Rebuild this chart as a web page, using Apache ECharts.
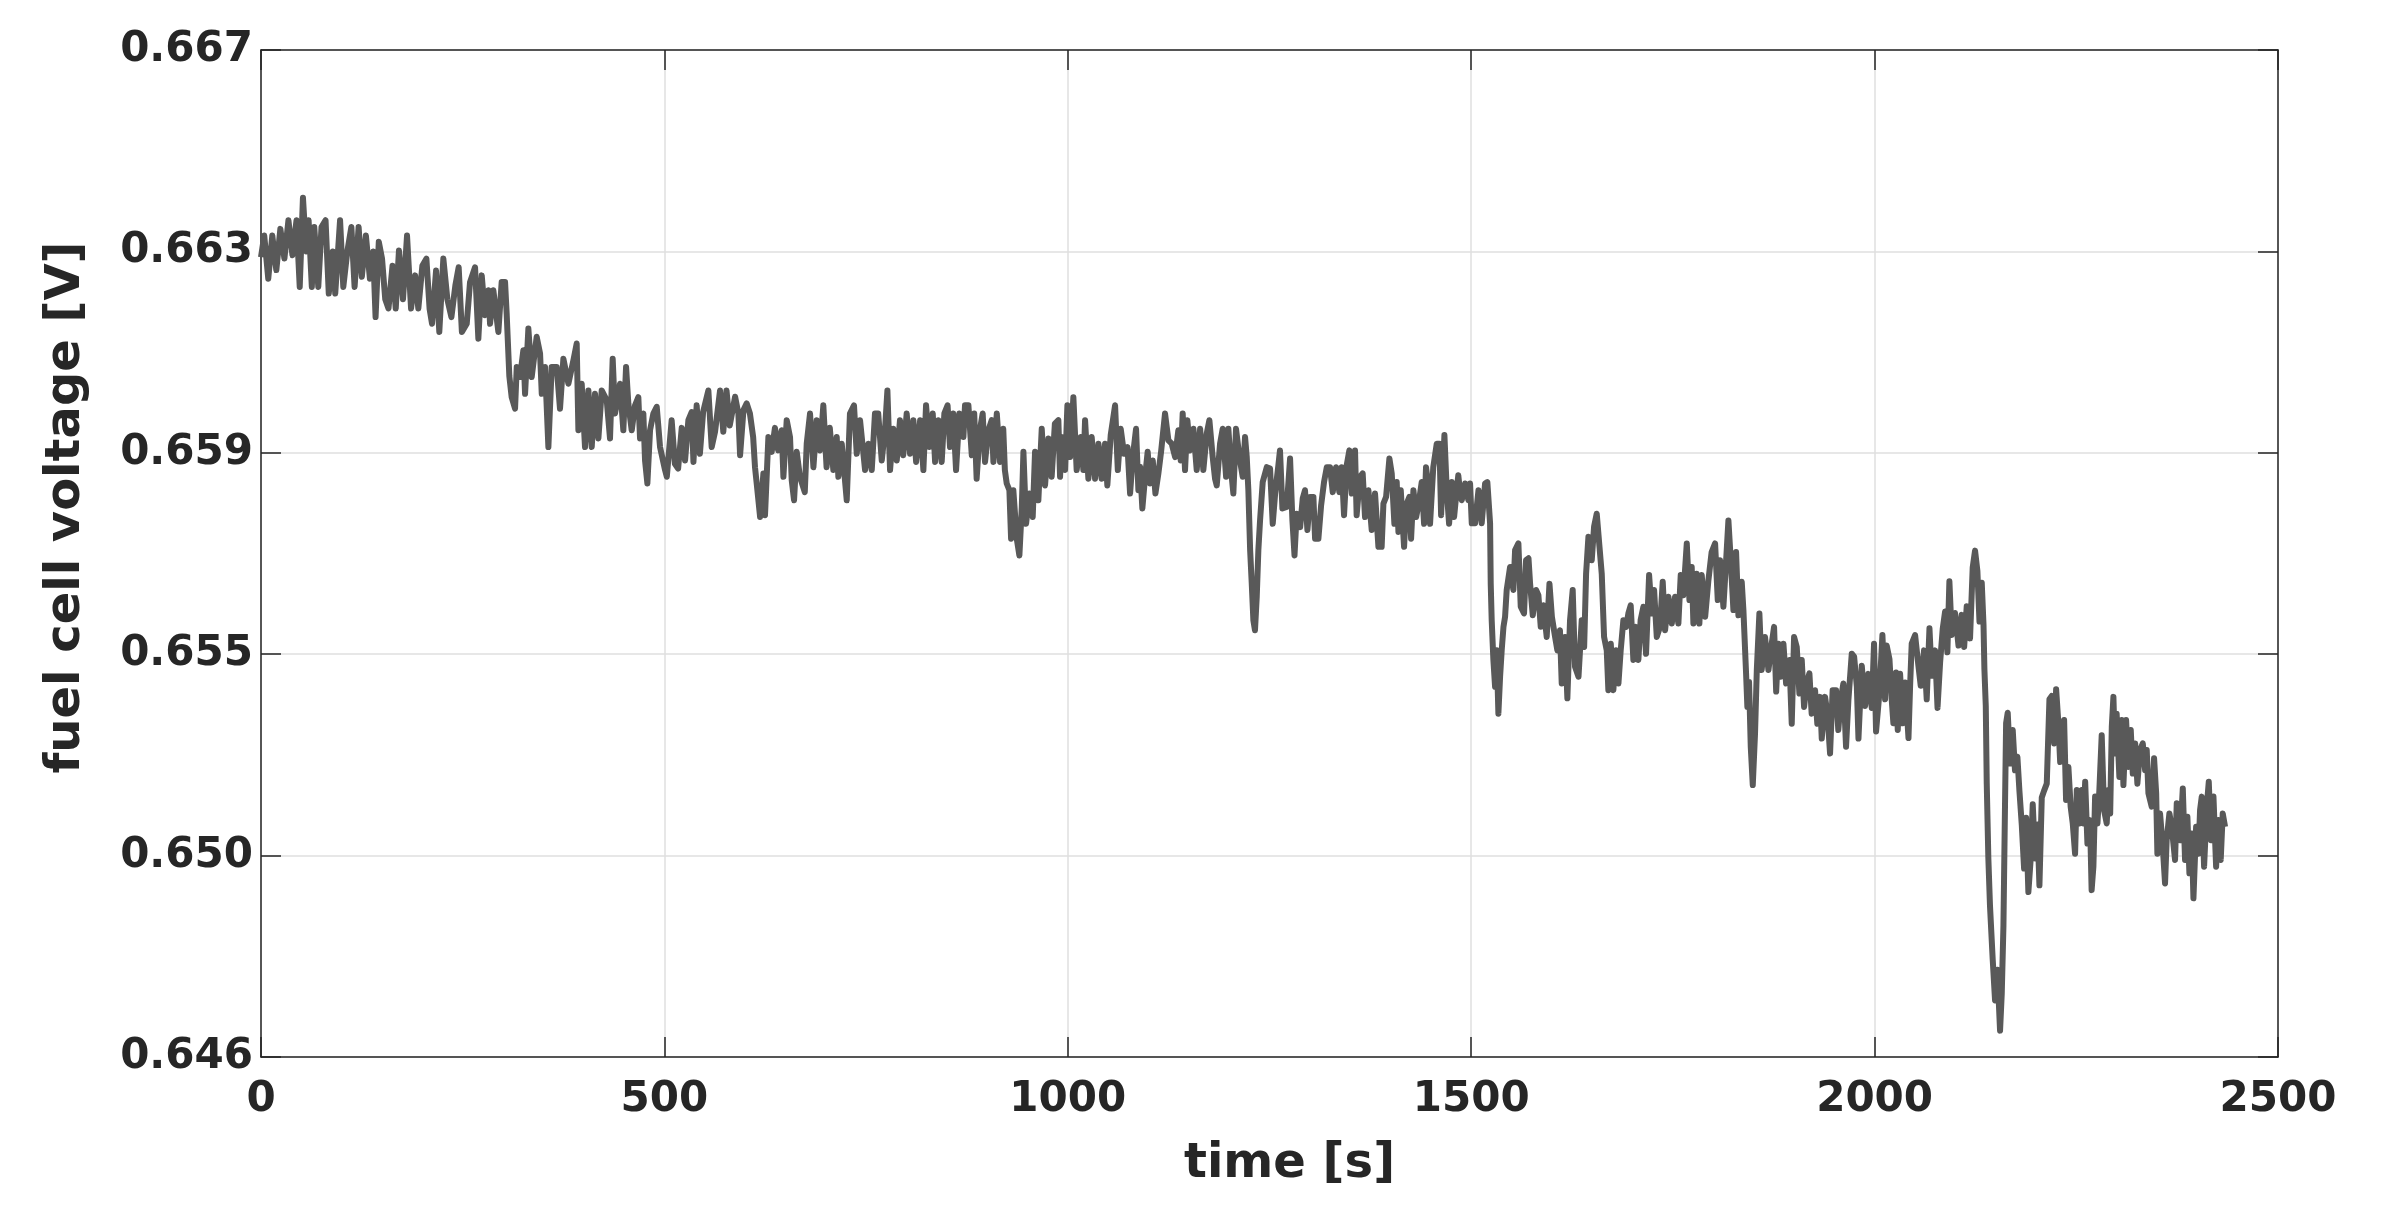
<!DOCTYPE html>
<html>
<head>
<meta charset="utf-8">
<title>fuel cell voltage</title>
<script src="https://cdn.jsdelivr.net/npm/echarts@6/dist/echarts.min.js"></script>
<style>
  html, body { margin: 0; padding: 0; background: #ffffff; }
  #chart { width: 2381px; height: 1219px; }
</style>
</head>
<body>
<div id="chart"></div>
<script>
const timeSec = [
  // 0 - 250 s
  0, 4, 9, 14, 19, 24, 29, 34, 39, 44, 48, 52, 56, 59, 63, 66, 71, 75, 80, 84,
  89, 92, 98, 102, 107, 112, 116, 121, 125, 130, 135, 139, 142, 146, 150, 154, 158, 163, 167, 171,
  176, 181, 186, 191, 195, 200, 205, 209, 212, 217, 221, 226, 231, 236, 241, 245, 249,
  // 250 - 495 s
  255, 259.1, 265.3, 269.4, 273.6, 277.7, 281.8, 283.9, 288, 294.2, 298.3, 302.5, 304.5, 307.8, 310.7, 314.9, 317, 321.1, 325.2, 327.3,
  331.4, 335.5, 341.7, 345.9, 348, 352.1, 356.2, 360.3, 366.5, 370.6, 374.8, 381, 387.2, 391.3, 393.4, 397.5, 401.6, 405.8, 409.9, 414,
  418.2, 422.3, 428.5, 432.6, 435.9, 438.8, 445, 449.1, 452.5, 455.3, 459.5, 463.6, 467.7, 469.8, 473.9, 476, 478.9, 482.2, 486.3, 490.5, 494.6,
  // 500 - 745 s
  500.8, 503, 509, 513, 517, 521.5, 525.6, 529.7, 533.8, 536, 540, 544, 548, 554.5, 558.6, 562.8, 569, 573, 577, 581,
  587.6, 591.7, 593.8, 598, 602, 606, 610, 612.3, 614.4, 618.6, 622.7, 624.7, 628.9, 633, 637, 641, 645.4, 647.5, 651.6, 655.7,
  657.8, 660.7, 664, 668, 674, 676.4, 680.5, 684.7, 688.8, 692.9, 697, 701, 705, 709.4, 713.6, 715.6, 719.8, 726, 730, 735, 738.4, 742.5,
  // 745 - 990 s
  748.7, 752.8, 757, 761, 765, 769.4, 773.5, 776.4, 779.7, 783.8, 788, 792, 796, 800.3, 804.5, 808.6, 812, 817, 821, 824.3,
  828.4, 832.6, 835.5, 839.6, 843.7, 847, 851, 854, 858, 861.5, 865.6, 870.6, 872.6, 876.8, 881, 884, 887, 891, 894.5, 897.4,
  901.6, 905.7, 907.8, 912, 916, 920, 922, 924.3, 927.6, 929.7, 932.5, 936.7, 940, 943, 945, 948.3, 952.4, 956.5, 959.4, 963.5,
  967.7, 971.8, 976, 980, 984, 988.3, 990.4,
  // 990 - 1240 s
  992.5, 996.6, 999.5, 1002.8, 1006.9, 1011, 1016, 1019.3, 1021.4, 1025.5, 1029.6, 1033.8, 1038, 1042, 1046.2, 1049, 1053.2, 1058.6, 1062, 1065.6,
  1069.7, 1074, 1077.2, 1080.5, 1084.6, 1087.5, 1089.6, 1092.4, 1095.8, 1099, 1102, 1105.3, 1108.6, 1112.3, 1115.6, 1120.5, 1124.7, 1128.8, 1133, 1137,
  1140, 1142.4, 1145.3, 1148.2, 1151.5, 1155.7, 1159.8, 1164, 1168, 1172.2, 1175.5, 1179.6, 1182.5, 1184.6, 1188.7, 1192, 1196.2, 1199, 1202.4, 1205.2,
  1208.5, 1212.7, 1216.8, 1219.7, 1221.8, 1223.8, 1226, 1228, 1230, 1232, 1234.2, 1236.2, 1238.3,
  // 1240 - 1487 s
  1241.6, 1246.6, 1250.7, 1254, 1257, 1261, 1263, 1266, 1271.4, 1275.5, 1278.4, 1281, 1283.7, 1288, 1291.2, 1294, 1297, 1300.3, 1304.4, 1306.5,
  1310.6, 1314, 1317.6, 1321, 1325, 1328.4, 1332.5, 1336.6, 1339.5, 1342.4, 1345.7, 1349, 1352, 1356, 1358, 1362.2, 1365.5, 1368.4, 1372.6, 1376.7,
  1380.8, 1385, 1389, 1391.2, 1394.5, 1398.6, 1401.5, 1404.8, 1407.7, 1409.8, 1412.7, 1416.8, 1419.3, 1423.4, 1425.5, 1428.4, 1431.7, 1434.6, 1438.7, 1441.6,
  1444, 1447, 1449, 1453, 1457.3, 1460.6, 1462.7, 1466.8, 1469.7, 1472.6, 1476, 1478.8, 1482, 1484, 1486,
  // 1487 - 1735 s
  1488.3, 1492.4, 1496.5, 1498.6, 1500.7, 1504.8, 1509, 1513, 1517.2, 1520, 1523.4, 1524.2, 1525.4, 1527.5, 1529.6, 1531.6, 1533.7, 1535.8, 1537.8, 1540,
  1542, 1544, 1548.2, 1552.3, 1554.4, 1558.5, 1561.4, 1565.5, 1568, 1571, 1573, 1576.3, 1580.4, 1583.3, 1586.2, 1589.5, 1593.6, 1597, 1600, 1604,
  1606.8, 1610, 1612.2, 1616.3, 1619.2, 1622.5, 1625.8, 1628.7, 1633, 1637, 1640, 1642.4, 1645.3, 1649.4, 1652.3, 1655.6, 1659, 1661.8, 1664.7, 1668,
  1670, 1673, 1676.2, 1679.6, 1682.5, 1685.3, 1688.6, 1692, 1694.8, 1697.7, 1701, 1704.3, 1707.2, 1710, 1713.4, 1716.7, 1720.5, 1723.8, 1726.7, 1730, 1734,
  // 1735 - 1980 s
  1737.4, 1740.3, 1744.4, 1748.6, 1752.7, 1756.8, 1759.7, 1763, 1767.2, 1770.5, 1773.3, 1775.4, 1779.5, 1782.8, 1785.7, 1790, 1794, 1798, 1802.3, 1805.6,
  1808.5, 1812.6, 1816, 1818.8, 1821.7, 1825, 1828.3, 1831.2, 1835.3, 1837.4, 1839.5, 1840.7, 1842.3, 1844.4, 1846.5, 1849, 1851.8, 1854, 1857.2, 1860,
  1864.2, 1868.4, 1872.5, 1875.4, 1878, 1880.8, 1883.7, 1887, 1890.3, 1894.4, 1897.3, 1900.2, 1903.5, 1906.8, 1909.7, 1912.6, 1916, 1919.2, 1922, 1926.2,
  1929, 1932.4, 1934.5, 1938.6, 1941.5, 1944.8, 1948, 1952.2, 1955, 1958, 1961.3, 1964.6, 1967.5, 1971.7, 1974.6, 1978, 1980,
  // 1980 - 2230 s
  1984.1, 1988.2, 1992.3, 1996.5, 1999.3, 2001.8, 2006, 2009.7, 2013, 2015, 2018.4, 2021.2, 2023.3, 2026.6, 2028.7, 2031.6, 2034.9, 2037.8, 2042, 2044,
  2046, 2050.2, 2054.3, 2057.2, 2061.3, 2064.6, 2068, 2070.8, 2075, 2078, 2081.2, 2084.5, 2087.4, 2090.2, 2092.7, 2095.6, 2099.7, 2104, 2108, 2111,
  2114.2, 2118.3, 2121.6, 2124.5, 2127.4, 2130, 2132.8, 2135, 2136.1, 2137.8, 2139, 2141, 2143, 2146.4, 2149.3, 2152.2, 2155.5, 2157.6, 2159.7, 2161.7,
  2163, 2165, 2168, 2171.2, 2174, 2177, 2179.5, 2182.4, 2185.3, 2187.8, 2190.6, 2193.5, 2196, 2199, 2201.8, 2204.3, 2207.2, 2210, 2213.4, 2216.7,
  2219.6, 2222.5, 2225, 2227.8, 2230,
  // 2230 - 2435 s
  2232, 2234.9, 2237.3, 2240.2, 2243, 2245.6, 2248.5, 2250.6, 2254, 2256.8, 2258.8, 2261, 2263.8, 2267, 2269, 2271.2, 2273.3, 2276.2, 2278.6, 2281.5,
  2284.4, 2287.7, 2289.8, 2292, 2294, 2296, 2298, 2300, 2303.4, 2306.3, 2308.4, 2311.7, 2314.6, 2317.5, 2320, 2323, 2325.7, 2329, 2332.4, 2335.3,
  2337.3, 2339.4, 2343.5, 2346.4, 2349, 2350.5, 2353.8, 2357.2, 2360, 2362, 2365.4, 2368.3, 2372.4, 2374.5, 2378.6, 2382, 2384.8, 2387.7, 2390.2, 2393,
  2395.2, 2398.5, 2401.4, 2403.4, 2405.5, 2408.4, 2411.7, 2414.2, 2417, 2420, 2423.3, 2426, 2429, 2431.5, 2434.4
];

const cellVoltage = [
  // 0 - 250 s
  0.66288, 0.66333, 0.66243, 0.66333, 0.66261, 0.66347, 0.66285, 0.66365, 0.66292, 0.66365, 0.66226, 0.66412, 0.66300, 0.66365, 0.66226, 0.66351, 0.66226, 0.66351, 0.66365, 0.66212,
  0.66300, 0.66212, 0.66365, 0.66226, 0.66300, 0.66351, 0.66226, 0.66351, 0.66247, 0.66333, 0.66243, 0.66300, 0.66163, 0.66320, 0.66285, 0.66200, 0.66181, 0.66270, 0.66181, 0.66302,
  0.66200, 0.66333, 0.66181, 0.66250, 0.66181, 0.66270, 0.66285, 0.66180, 0.66149, 0.66260, 0.66132, 0.66285, 0.66200, 0.66163, 0.66230, 0.66267, 0.66132,
  // 250 - 495 s
  0.66149, 0.66236, 0.66267, 0.66118, 0.66250, 0.66167, 0.66219, 0.66149, 0.66219, 0.66132, 0.66236, 0.66236, 0.66170, 0.66040, 0.65996, 0.65972, 0.66059, 0.66038, 0.66094, 0.66003,
  0.66139, 0.66038, 0.66122, 0.66087, 0.66003, 0.66059, 0.65892, 0.66059, 0.66059, 0.65972, 0.66076, 0.66024, 0.66073, 0.66108, 0.65927, 0.66024, 0.65892, 0.66010, 0.65892, 0.66003,
  0.65910, 0.66010, 0.65990, 0.65910, 0.66076, 0.65962, 0.66024, 0.65927, 0.66059, 0.65983, 0.65927, 0.65979, 0.65996, 0.65910, 0.65962, 0.65864, 0.65816, 0.65927, 0.65962, 0.65976, 0.65892,
  // 500 - 745 s
  0.65844, 0.65830, 0.65948, 0.65857, 0.65847, 0.65932, 0.65864, 0.65948, 0.65965, 0.65861, 0.65979, 0.65878, 0.65965, 0.66010, 0.65892, 0.65924, 0.66010, 0.65924, 0.66010, 0.65937,
  0.65997, 0.65962, 0.65875, 0.65969, 0.65983, 0.65962, 0.65913, 0.65850, 0.65816, 0.65746, 0.65837, 0.65750, 0.65913, 0.65882, 0.65932, 0.65885, 0.65927, 0.65830, 0.65948, 0.65913,
  0.65823, 0.65781, 0.65882, 0.65830, 0.65798, 0.65899, 0.65962, 0.65850, 0.65948, 0.65885, 0.65979, 0.65850, 0.65932, 0.65844, 0.65913, 0.65830, 0.65899, 0.65781, 0.65962, 0.65979, 0.65878, 0.65948,
  // 745 - 990 s
  0.65844, 0.65899, 0.65844, 0.65962, 0.65962, 0.65864, 0.65930, 0.66010, 0.65844, 0.65930, 0.65864, 0.65948, 0.65875, 0.65962, 0.65878, 0.65948, 0.65861, 0.65948, 0.65844, 0.65979,
  0.65892, 0.65962, 0.65861, 0.65948, 0.65861, 0.65962, 0.65979, 0.65892, 0.65962, 0.65844, 0.65962, 0.65913, 0.65979, 0.65979, 0.65875, 0.65962, 0.65826, 0.65927, 0.65962, 0.65861,
  0.65927, 0.65948, 0.65861, 0.65962, 0.65861, 0.65930, 0.65844, 0.65816, 0.65802, 0.65701, 0.65802, 0.65701, 0.65666, 0.65767, 0.65882, 0.65732, 0.65795, 0.65746, 0.65882, 0.65781,
  0.65930, 0.65812, 0.65910, 0.65830, 0.65941, 0.65948, 0.65830,
  // 990 - 1240 s
  0.65913, 0.65844, 0.65979, 0.65871, 0.65996, 0.65844, 0.65913, 0.65844, 0.65948, 0.65826, 0.65913, 0.65826, 0.65899, 0.65826, 0.65899, 0.65812, 0.65917, 0.65979, 0.65844, 0.65930,
  0.65878, 0.65892, 0.65795, 0.65871, 0.65930, 0.65802, 0.65851, 0.65764, 0.65830, 0.65882, 0.65816, 0.65864, 0.65795, 0.65837, 0.65882, 0.65962, 0.65906, 0.65899, 0.65871, 0.65927,
  0.65864, 0.65962, 0.65844, 0.65948, 0.65885, 0.65930, 0.65844, 0.65930, 0.65844, 0.65920, 0.65948, 0.65871, 0.65826, 0.65812, 0.65899, 0.65930, 0.65830, 0.65930, 0.65844, 0.65795,
  0.65930, 0.65871, 0.65830, 0.65913, 0.65871, 0.65802, 0.65677, 0.65607, 0.65531, 0.65510, 0.65580, 0.65677, 0.65739,
  // 1240 - 1487 s
  0.65819, 0.65850, 0.65847, 0.65732, 0.65795, 0.65854, 0.65885, 0.65764, 0.65767, 0.65868, 0.65739, 0.65666, 0.65753, 0.65725, 0.65785, 0.65802, 0.65719, 0.65788, 0.65788, 0.65701,
  0.65701, 0.65771, 0.65819, 0.65850, 0.65850, 0.65798, 0.65850, 0.65798, 0.65850, 0.65750, 0.65854, 0.65885, 0.65795, 0.65885, 0.65750, 0.65830, 0.65837, 0.65746, 0.65802, 0.65719,
  0.65795, 0.65684, 0.65684, 0.65774, 0.65788, 0.65868, 0.65837, 0.65732, 0.65819, 0.65715, 0.65802, 0.65684, 0.65771, 0.65788, 0.65701, 0.65802, 0.65746, 0.65771, 0.65819, 0.65732,
  0.65850, 0.65809, 0.65732, 0.65850, 0.65899, 0.65899, 0.65750, 0.65917, 0.65802, 0.65732, 0.65819, 0.65746, 0.65802, 0.65833, 0.65802,
  // 1487 - 1735 s
  0.65781, 0.65816, 0.65781, 0.65816, 0.65733, 0.65733, 0.65802, 0.65733, 0.65816, 0.65819, 0.65733, 0.65607, 0.65531, 0.65448, 0.65392, 0.65468, 0.65336, 0.65413, 0.65468, 0.65517,
  0.65538, 0.65594, 0.65642, 0.65594, 0.65677, 0.65691, 0.65559, 0.65545, 0.65656, 0.65660, 0.65607, 0.65541, 0.65594, 0.65583, 0.65517, 0.65562, 0.65496, 0.65607, 0.65538, 0.65496,
  0.65468, 0.65510, 0.65399, 0.65496, 0.65368, 0.65531, 0.65594, 0.65434, 0.65413, 0.65531, 0.65475, 0.65628, 0.65705, 0.65656, 0.65726, 0.65753, 0.65684, 0.65628, 0.65496, 0.65468,
  0.65385, 0.65482, 0.65385, 0.65468, 0.65399, 0.65468, 0.65531, 0.65517, 0.65545, 0.65562, 0.65448, 0.65517, 0.65448, 0.65531, 0.65559, 0.65461, 0.65625, 0.65545, 0.65594, 0.65496, 0.65517,
  // 1735 - 1980 s
  0.65611, 0.65510, 0.65580, 0.65524, 0.65580, 0.65524, 0.65625, 0.65583, 0.65691, 0.65573, 0.65642, 0.65524, 0.65628, 0.65524, 0.65625, 0.65538, 0.65614, 0.65673, 0.65691, 0.65573,
  0.65656, 0.65559, 0.65656, 0.65739, 0.65656, 0.65552, 0.65673, 0.65541, 0.65611, 0.65552, 0.65468, 0.65420, 0.65350, 0.65402, 0.65267, 0.65187, 0.65295, 0.65427, 0.65545, 0.65427,
  0.65496, 0.65427, 0.65482, 0.65517, 0.65382, 0.65482, 0.65413, 0.65482, 0.65399, 0.65448, 0.65315, 0.65496, 0.65475, 0.65378, 0.65448, 0.65350, 0.65402, 0.65420, 0.65336, 0.65385,
  0.65315, 0.65371, 0.65284, 0.65371, 0.65336, 0.65253, 0.65385, 0.65385, 0.65302, 0.65364, 0.65399, 0.65267, 0.65364, 0.65461, 0.65455, 0.65392, 0.65284,
  // 1980 - 2230 s
  0.65436, 0.65352, 0.65419, 0.65348, 0.65482, 0.65299, 0.65380, 0.65500, 0.65366, 0.65478, 0.65450, 0.65366, 0.65316, 0.65422, 0.65302, 0.65419, 0.65316, 0.65401, 0.65285, 0.65394,
  0.65482, 0.65500, 0.65436, 0.65394, 0.65468, 0.65366, 0.65514, 0.65415, 0.65468, 0.65348, 0.65443, 0.65514, 0.65549, 0.65464, 0.65612, 0.65500, 0.65546, 0.65478, 0.65542, 0.65475,
  0.65560, 0.65493, 0.65641, 0.65676, 0.65634, 0.65528, 0.65609, 0.65521, 0.65429, 0.65352, 0.65190, 0.65034, 0.64936, 0.64823, 0.64738, 0.64802, 0.64675, 0.64752, 0.64894, 0.65154,
  0.65316, 0.65338, 0.65232, 0.65302, 0.65218, 0.65246, 0.65175, 0.65105, 0.65013, 0.65119, 0.64964, 0.65034, 0.65147, 0.65034, 0.65105, 0.64978, 0.65161, 0.65175, 0.65190, 0.65366,
  0.65373, 0.65274, 0.65387, 0.65316, 0.65235,
  // 2230 - 2435 s
  0.65239, 0.65323, 0.65156, 0.65225, 0.65142, 0.65107, 0.65044, 0.65177, 0.65107, 0.65177, 0.65107, 0.65194, 0.65065, 0.65114, 0.64968, 0.65017, 0.65163, 0.65107, 0.65177, 0.65291,
  0.65135, 0.65107, 0.65177, 0.65128, 0.65309, 0.65371, 0.65253, 0.65336, 0.65204, 0.65323, 0.65187, 0.65323, 0.65225, 0.65302, 0.65211, 0.65274, 0.65190, 0.65260, 0.65274, 0.65218,
  0.65260, 0.65170, 0.65142, 0.65243, 0.65170, 0.65044, 0.65128, 0.65058, 0.64982, 0.65072, 0.65128, 0.65100, 0.65031, 0.65149, 0.65072, 0.65180, 0.65031, 0.65121, 0.65003, 0.65086,
  0.64951, 0.65100, 0.65044, 0.65135, 0.65163, 0.65017, 0.65142, 0.65194, 0.65072, 0.65163, 0.65017, 0.65114, 0.65031, 0.65128, 0.65100
];

// axis ranges as on the original figure
const timeRange = [0, 2500];
const timeStep = 500;
const voltRange = [0.6462, 0.6672];
const voltStep = 0.0042;

const axisColor = '#262626';
const font = 'DejaVu Sans';

const points = timeSec.map((t, i) => [t, cellVoltage[i]]);

const chart = echarts.init(document.getElementById('chart'), null, { renderer: 'canvas' });

const baseX = {
  type: 'value',
  min: timeRange[0],
  max: timeRange[1],
  interval: timeStep,
  axisLine: { show: true, onZero: false, lineStyle: { color: axisColor, width: 1.5 } },
  axisTick: { show: true, inside: true, length: 20, lineStyle: { color: axisColor, width: 1.5 } },
};
const baseY = {
  type: 'value',
  min: voltRange[0],
  max: voltRange[1],
  interval: voltStep,
  axisLine: { show: true, onZero: false, lineStyle: { color: axisColor, width: 1.5 } },
  axisTick: { show: true, inside: true, length: 20, lineStyle: { color: axisColor, width: 1.5 } },
};

const option = {
  animation: false,
  backgroundColor: '#ffffff',
  grid: { left: 261, right: 103, top: 50, bottom: 162 },
  xAxis: [
    {
      ...baseX,
      position: 'bottom',
      name: 'time [s]',
      nameLocation: 'middle',
      nameGap: 84,
      nameTextStyle: { fontFamily: font, fontWeight: 'bold', fontSize: 48, color: axisColor, padding: [0, 0, 0, 40] },
      axisLabel: {
        fontFamily: font, fontWeight: 'bold', fontSize: 42, color: axisColor, margin: 22,
        formatter: (v) => String(v),
      },
      splitLine: { show: true, lineStyle: { color: '#dfdfdf', width: 1.5 } },
    },
    {
      ...baseX,
      position: 'top',
      axisLabel: { show: false },
      splitLine: { show: false },
    },
  ],
  yAxis: [
    {
      ...baseY,
      position: 'left',
      name: 'fuel cell voltage [V]',
      nameLocation: 'middle',
      nameGap: 170,
      nameTextStyle: { fontFamily: font, fontWeight: 'bold', fontSize: 48, color: axisColor, padding: [0, 0, 0, 92] },
      axisLabel: {
        fontFamily: font, fontWeight: 'bold', fontSize: 42, color: axisColor, margin: 8,
        formatter: (v) => v.toFixed(3),
      },
      splitLine: { show: true, lineStyle: { color: '#dfdfdf', width: 1.5 } },
    },
    {
      ...baseY,
      position: 'right',
      axisLabel: { show: false },
      splitLine: { show: false },
    },
  ],
  series: [
    {
      type: 'line',
      data: points,
      xAxisIndex: 0,
      yAxisIndex: 0,
      showSymbol: false,
      symbol: 'none',
      sampling: null,
      lineStyle: { color: '#595959', width: 6, join: 'round' },
      z: 3,
    },
  ],
};

chart.setOption(option);
</script>
</body>
</html>
